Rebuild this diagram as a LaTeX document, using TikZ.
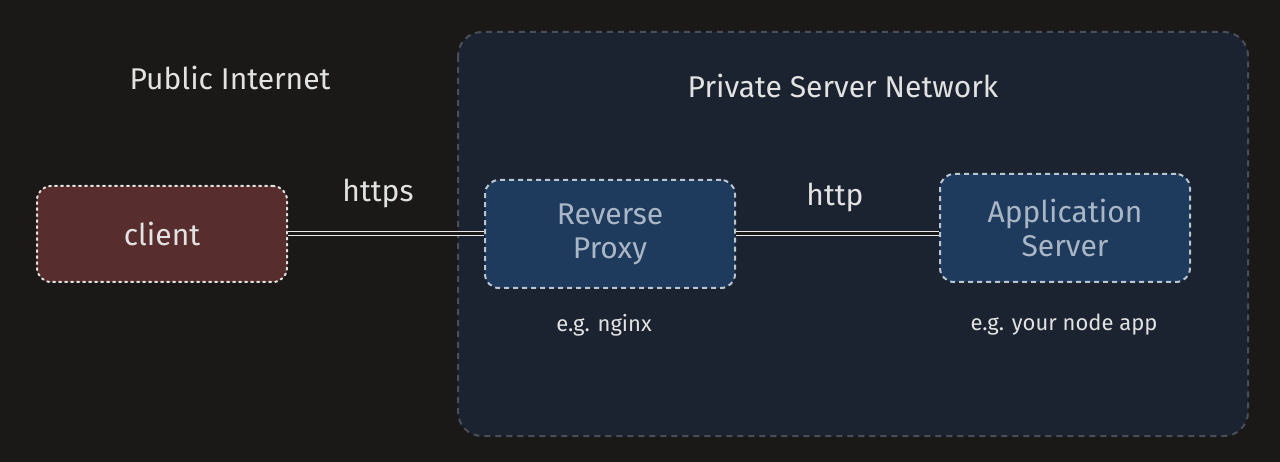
\documentclass[tikz,border=0pt]{standalone}
\usepackage{fontspec}
\setmainfont{Fira Sans}
\definecolor{bg}{HTML}{1A1917}
\definecolor{netfill}{HTML}{1B2330}
\definecolor{clientfill}{HTML}{582D2D}
\definecolor{boxfill}{HTML}{1E3A5C}
\definecolor{txt}{HTML}{E2E2E2}
\definecolor{boxtxt}{HTML}{A9B6C6}
\begin{document}
\begin{tikzpicture}[x=1pt,y=-1pt,
  lbl/.style={text=txt,font=\fontsize{30}{32}\selectfont},
  small/.style={text=txt,font=\fontsize{22}{24}\selectfont},
  box/.style={rounded corners=14pt,draw=boxtxt!80,line width=2pt,dash pattern=on 5pt off 4pt,fill=boxfill,text=boxtxt,font=\fontsize{30}{34}\selectfont,align=center,minimum width=250pt,inner sep=0pt},
  link/.style={double=bg,double distance=3pt,draw=txt!80,line width=1pt}]
\fill[bg] (0,0) rectangle (1280,462);
\draw[netfill!80!white,fill=netfill,rounded corners=24pt,line width=2pt,dash pattern=on 6pt off 5pt] (458,32) rectangle (1248,436);
\node[lbl] (pub) at (230,78) {Public Internet};
\node[lbl] (priv) at (843,86) {Private Server Network};
\node[box,fill=clientfill,draw=txt,dash pattern=on 2pt off 4pt,line cap=round,text=txt,minimum height=96pt] (client) at (162,234) {client};
\node[box,minimum height=108pt] (proxy) at (610,234) {Reverse\\Proxy};
\node[box,minimum height=108pt] (app) at (1065,228) {Application\\Server};
\draw[link] (client.east) -- (proxy.west);
\draw[link] (proxy.east) -- (app.west |- proxy.east);
\node[lbl] (https) at (378,193) {https};
\node[lbl] (http) at (835,197) {http};
\node[small] (ng) at (604,325) {e.g. nginx};
\node[small] (na) at (1064,325) {e.g. your node app};
\end{tikzpicture}
\end{document}
